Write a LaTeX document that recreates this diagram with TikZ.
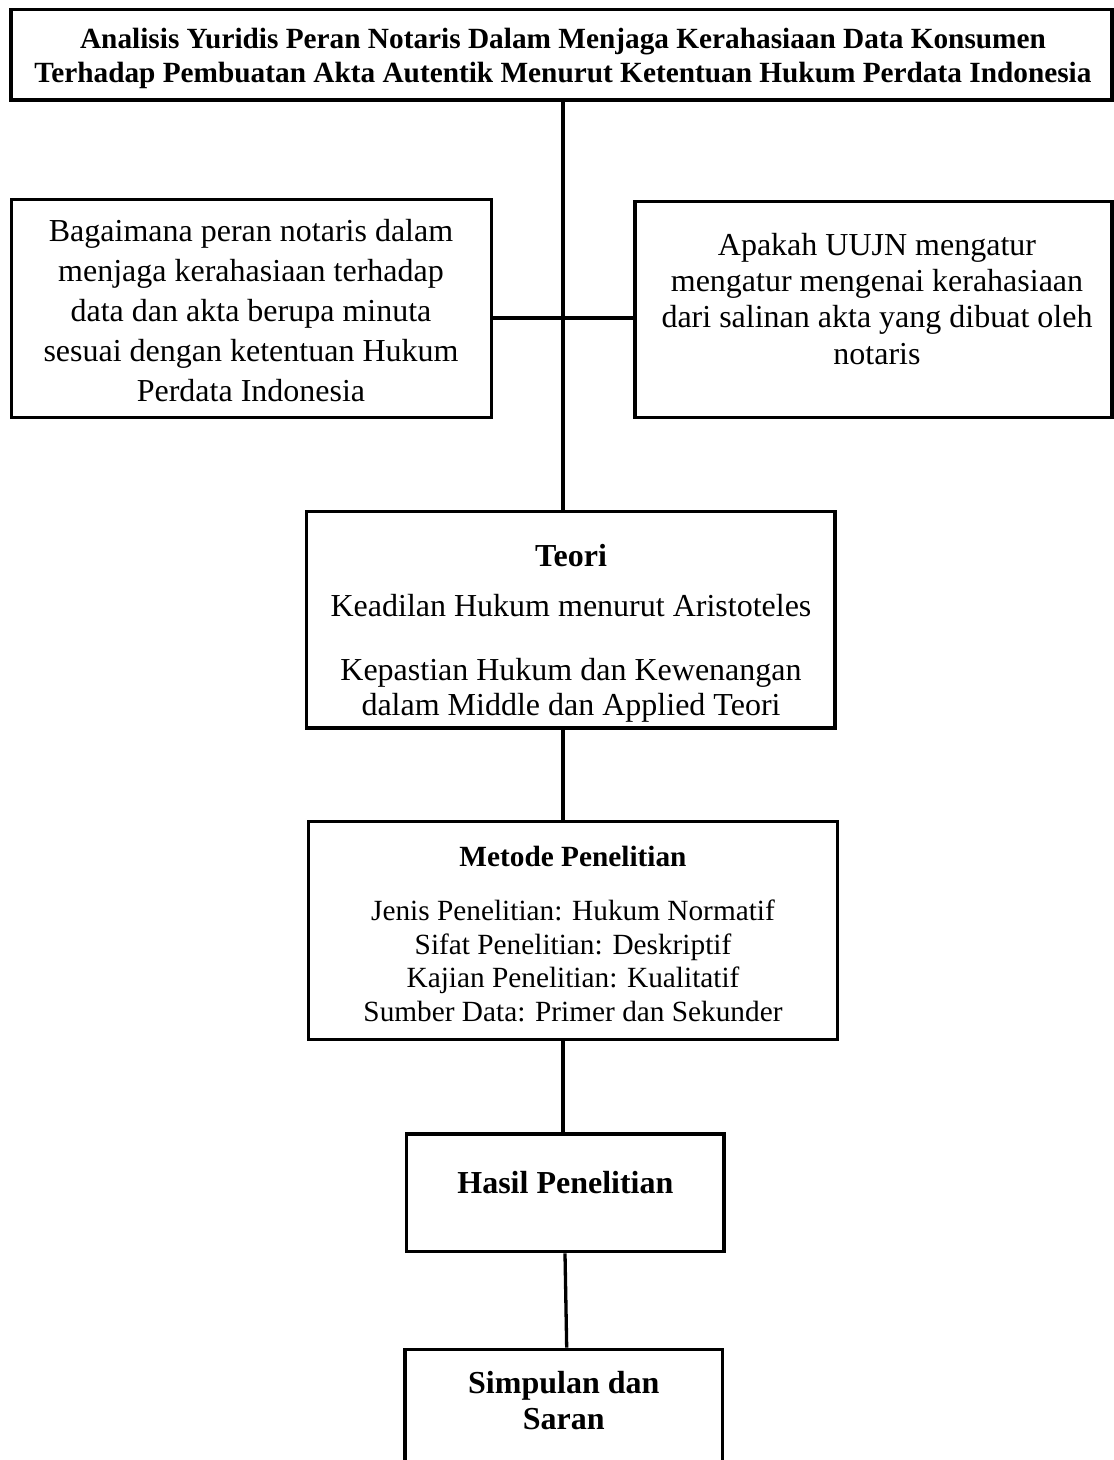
\documentclass[tikz,border=0pt]{standalone}
\usepackage{fontspec}
\setmainfont{Liberation Serif}
\begin{document}
\begin{tikzpicture}[x=1pt,y=-1pt,
  box/.style={draw=black,line width=3.4pt,rectangle,inner sep=0pt,fill=none},
  conn/.style={draw=black,line width=3.3pt},
  big/.style={anchor=base,inner sep=0pt,font=\fontsize{32}{36.8}\selectfont},
  bigb/.style={anchor=base,inner sep=0pt,font=\fontsize{32}{36.8}\selectfont\bfseries},
  small/.style={anchor=base,inner sep=0pt,font=\fontsize{29.3}{33.7}\selectfont},
  smallb/.style={anchor=base,inner sep=0pt,font=\fontsize{29.3}{33.7}\selectfont\bfseries}]
\useasboundingbox (0,0) rectangle (1114,1460);
\fill[white] (0,0) rectangle (1114,1460);

% boxes
\node[box,minimum width=1101pt,minimum height=90.7pt] (title) at (561.5,54.65) {};
\node[box,minimum width=480pt,minimum height=218.4pt] (left) at (251.7,308.5) {};
\node[box,minimum width=477pt,minimum height=216pt] (right) at (873.5,309.7) {};
\node[box,minimum width=528.3pt,minimum height=216.3pt] (teori) at (570.85,619.85) {};
\node[box,minimum width=529pt,minimum height=217.6pt] (metode) at (572.8,930.5) {};
\node[box,minimum width=317.3pt,minimum height=117.7pt] (hasil) at (565.35,1192.85) {};
\node[box,minimum width=317.7pt,minimum height=130.7pt] (simp) at (563.85,1414.65) {};

% connector helpers
\coordinate (spine) at (563,0);
\coordinate (hy) at (0,318);
\coordinate (sa) at (565,0);
\coordinate (sb) at (566.7,0);

\draw[conn] (title.south -| spine) -- (teori.north -| spine);
\draw[conn] (left.east |- hy) -- (right.west |- hy);
\draw[conn] (teori.south -| spine) -- (metode.north -| spine);
\draw[conn] (metode.south -| spine) -- (hasil.north -| spine);
\draw[conn] (hasil.south -| sa) -- (simp.north -| sb);

% title text
\node[smallb] (ti1) at (563,48.7) {Analisis Yuridis Peran Notaris Dalam Menjaga Kerahasiaan Data Konsumen};
\node[smallb] (ti2) at (563,82) {Terhadap Pembuatan Akta Autentik Menurut Ketentuan Hukum Perdata Indonesia};

% left text
\node[big] (l1) at (251,241.7) {Bagaimana peran notaris dalam};
\node[big] (l2) at (251,281.7) {menjaga kerahasiaan terhadap};
\node[big] (l3) at (251,321.7) {data dan akta berupa minuta};
\node[big] (l4) at (251,361.7) {sesuai dengan ketentuan Hukum};
\node[big] (l5) at (251,401.7) {Perdata Indonesia};

% right text
\node[big] (r1) at (877,255) {Apakah UUJN mengatur};
\node[big] (r2) at (877,291.4) {mengatur mengenai kerahasiaan};
\node[big] (r3) at (877,327.8) {dari salinan akta yang dibuat oleh};
\node[big] (r4) at (877,364.2) {notaris};

% teori text
\node[bigb] (t1) at (571,566) {Teori};
\node[big] (t2) at (571,616) {Keadilan Hukum menurut Aristoteles};
\node[big] (t3) at (571,680.5) {Kepastian Hukum dan Kewenangan};
\node[big] (t4) at (571,715) {dalam Middle dan Applied Teori};

% metode text
\node[smallb] (m1) at (573,866) {Metode Penelitian};
\node[small] (m2) at (573,920) {Jenis Penelitian: Hukum Normatif};
\node[small] (m3) at (573,954) {Sifat Penelitian: Deskriptif};
\node[small] (m4) at (573,987.7) {Kajian Penelitian: Kualitatif};
\node[small] (m5) at (573,1021.5) {Sumber Data: Primer dan Sekunder};

% hasil
\node[bigb] (h1) at (565.4,1193.5) {Hasil Penelitian};

% simpulan
\node[bigb] (s1) at (563.8,1393) {Simpulan dan};
\node[bigb] (s2) at (563.8,1429.5) {Saran};
\end{tikzpicture}
\end{document}
